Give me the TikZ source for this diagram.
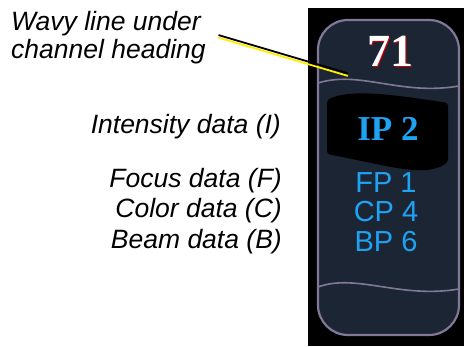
\documentclass[tikz,border=0pt]{standalone}
\usepackage{fontspec}
\setmainfont{Liberation Sans}
\newfontfamily\chserif{Liberation Serif}
\usepackage{tikz}
\usetikzlibrary{calc,positioning}
\definecolor{capsfill}{RGB}{27,37,52}
\definecolor{capsedge}{RGB}{128,120,150}
\definecolor{capscyan}{RGB}{30,162,242}
\definecolor{hiliteyel}{RGB}{255,238,0}
\tikzstyle{note}   =[inner sep=0pt, font=\fontsize{26.5}{28}\selectfont\itshape,
                     align=left]
\tikzstyle{chdata} =[inner sep=0pt, text=capscyan,
                     font=\fontsize{29}{29}\selectfont]
\tikzstyle{wave}   =[draw=capsedge, line width=1.6pt]
\tikzstyle{pointer}=[line width=1.8pt, line cap=round]

\begin{document}
\begin{tikzpicture}[x=1pt, y=-1pt, node distance=29.5pt, on grid]
  \useasboundingbox (0,0) rectangle (464,346);
  % screen background and channel capsule
  \fill[black] (308,8) rectangle (464,346);
  \draw[fill=capsfill, draw=capsedge, line width=2.2pt, rounded corners=30pt]
    (318,20) rectangle (459,335);
  \draw[wave] (318,83) .. controls (360,70) and (400,96) .. (459,86);
  \draw[wave] (318,287) .. controls (356,273) and (400,299) .. (459,289);
  \fill[black, rounded corners=3pt] (327,100) .. controls (350,89) and (390,94) .. (448,103)
    -- (448,162) .. controls (425,178) and (390,166) .. (327,154) -- cycle;

  % channel heading and data
  \node[inner sep=0pt, text=red!80!black, font=\chserif\bfseries\fontsize{46}{46}\selectfont,
        anchor=base] at (391.5,67) {71};
  \node (chnum) [inner sep=0pt, text=white, font=\chserif\bfseries\fontsize{46}{46}\selectfont,
        anchor=base] at (390,66.5) {71};
  \node (ip) [chdata, font=\chserif\bfseries\fontsize{35}{35}\selectfont, anchor=base]
        at (388,140) {IP 2};
  \node (fp) [chdata] at (386,182.5) {FP 1};
  \node (cp) [chdata, below=of fp] {CP 4};
  \node (bp) [chdata, below=of cp] {BP 6};

  % annotations
  \node (wavy) [note, anchor=base west] at (11,58) {Wavy line under\\channel heading};
  \node (intens) [note, anchor=base east] at (281,133) {Intensity data (I)};
  \node (focus)  [note, anchor=base east] at (282,187) {Focus data (F)};
  \node (color)  [note, anchor=base east] at (282,217.5) {Color data (C)};
  \node (beam)   [note, anchor=base east] at (282,248) {Beam data (B)};

  \coordinate (wstart) at (219,36.5);
  \coordinate (wtip) at (347.5,74.5);
  \draw[pointer, hiliteyel] ([yshift=-1.3pt]wstart) -- ([yshift=-1.3pt]wtip);
  \draw[pointer, black] ([yshift=1.3pt]wstart) -- ([yshift=1.3pt]wtip);
\end{tikzpicture}
\end{document}
